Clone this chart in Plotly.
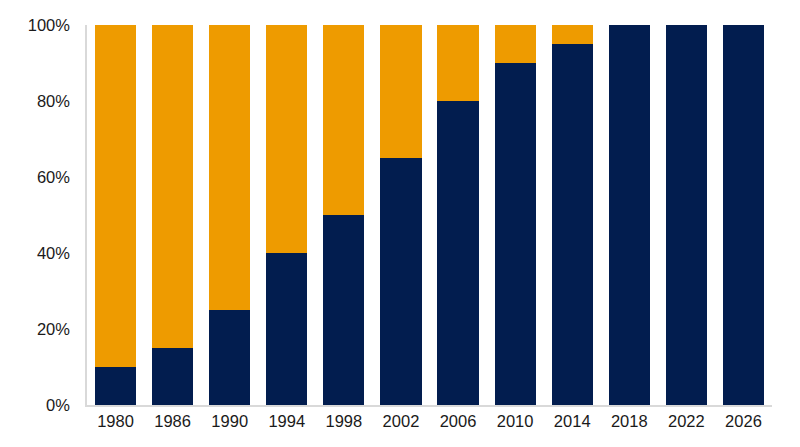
import plotly.graph_objects as go

years = ["1980", "1986", "1990", "1994", "1998", "2002", "2006", "2010", "2014", "2018", "2022", "2026"]
navy_share = [10, 15, 25, 40, 50, 65, 80, 90, 95, 100, 100, 100]
orange_share = [100 - v for v in navy_share]
y_ticks = [0, 20, 40, 60, 80, 100]
y_tick_text = [f"{v}%" for v in y_ticks]

NAVY = "#021d4f"
ORANGE = "#ee9b00"

fig = go.Figure()
fig.add_trace(go.Bar(x=years, y=navy_share, marker=dict(color=NAVY, line=dict(width=0)),
                     showlegend=False))
fig.add_trace(go.Bar(x=years, y=orange_share, marker=dict(color=ORANGE, line=dict(width=0)),
                     showlegend=False))

fig.update_layout(
    barmode="stack",
    bargap=0.28,
    width=800, height=447,
    margin=dict(l=87, r=28, t=25, b=42, autoexpand=False),
    paper_bgcolor="white",
    plot_bgcolor="white",
    font=dict(family="Liberation Sans, Arial, sans-serif", size=16.5, color="#1a1a1a"),
)
fig.update_xaxes(showline=True, linecolor="#d9d9d9", linewidth=1.5, ticks="", showgrid=False)
fig.update_yaxes(range=[0, 100], tickmode="array", tickvals=y_ticks, ticktext=y_tick_text,
                 showline=True, linecolor="#d9d9d9", linewidth=1.5, showgrid=False,
                 ticks="", zeroline=False, ticklabelstandoff=12)

# page body has a default 8px margin, drop it so the figure sits at 0,0
fig.write_html("out.html", config={"displayModeBar": False},
               post_script="document.body.style.margin='0';")
